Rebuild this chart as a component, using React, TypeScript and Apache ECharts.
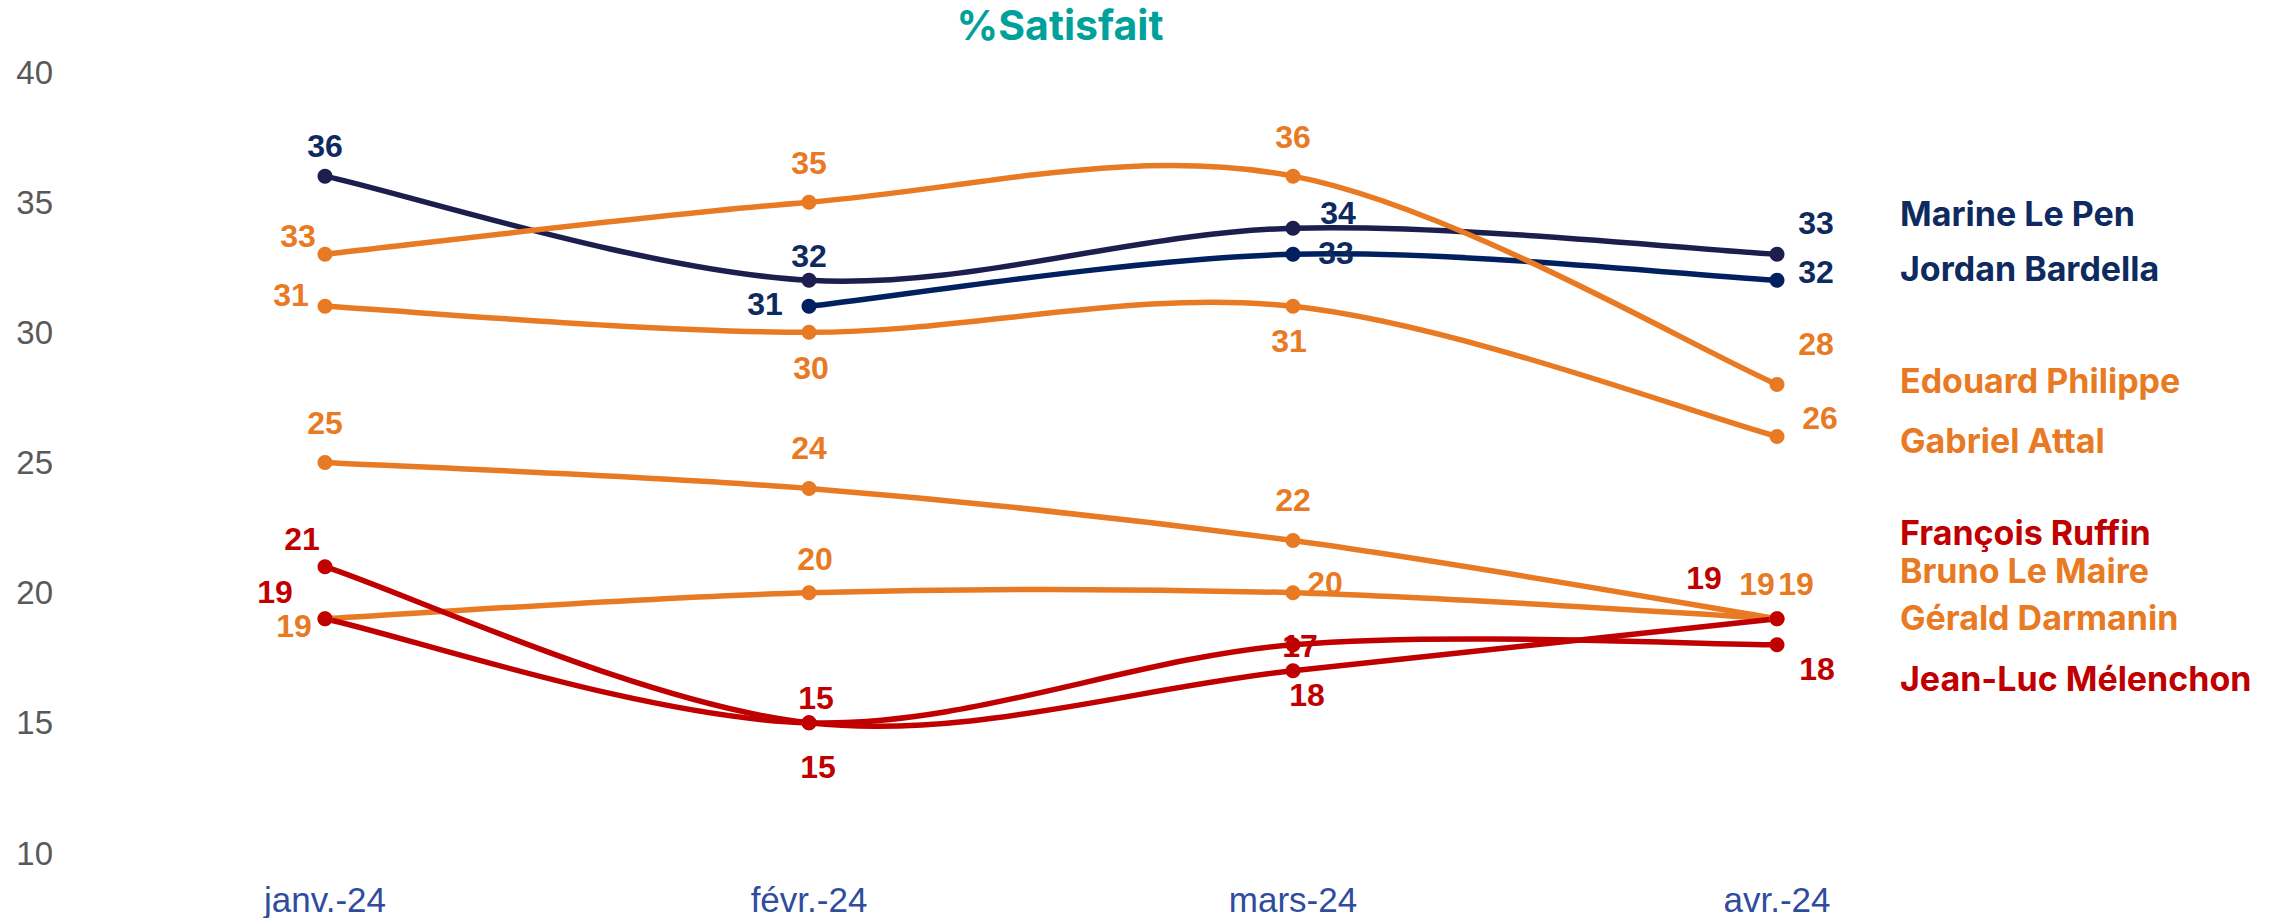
import React, { useEffect, useRef } from "react";
import * as echarts from "echarts";

const months = ["janv.-24", "févr.-24", "mars-24", "avr.-24"];
const marineLePen = [36, 32, 34, 33];
const jordanBardella = [null, 31, 33, 32];
const edouardPhilippe = [33, 35, 36, 28];
const gabrielAttal = [31, 30, 31, 26];
const brunoLeMaire = [25, 24, 22, 19];
const geraldDarmanin = [19, 20, 20, 19];
const francoisRuffin = [21, 15, 17, 19];
const jeanLucMelenchon = [19, 15, 18, 18];
const yMin = 10;
const yMax = 40;
const yStep = 5;
const titleText = "%Satisfait";

const NAVY1 = "#1C1F4E";
const NAVY2 = "#002060";
const NAVY_TXT = "#0E2A5E";
const ORANGE = "#E97A24";
const RED = "#C00000";

type Off = [number, number] | null;

const seriesDefs: { name: string; data: (number | null)[]; color: string; text: string; offsets: Off[]; nameY: number }[] = [
  { name: "Marine Le Pen", data: marineLePen, color: NAVY1, text: NAVY_TXT, offsets: [[0, -30], [0, -24], [45, -15], [39, -31]], nameY: 213 },
  { name: "Jordan Bardella", data: jordanBardella, color: NAVY2, text: NAVY_TXT, offsets: [null, [-44, -2], [43, -1], [39, -8]], nameY: 268 },
  { name: "Edouard Philippe", data: edouardPhilippe, color: ORANGE, text: ORANGE, offsets: [[-27, -18], [0, -39], [0, -39], [39, -40]], nameY: 380 },
  { name: "Gabriel Attal", data: gabrielAttal, color: ORANGE, text: ORANGE, offsets: [[-34, -11], [2, 36], [-4, 35], [43, -18]], nameY: 440 },
  { name: "Bruno Le Maire", data: brunoLeMaire, color: ORANGE, text: ORANGE, offsets: [[0, -40], [0, -41], [0, -41], [-20, -35]], nameY: 570 },
  { name: "Gérald Darmanin", data: geraldDarmanin, color: ORANGE, text: ORANGE, offsets: [[-31, 7], [6, -34], [32, -10], [19, -35]], nameY: 617 },
  { name: "François Ruffin", data: francoisRuffin, color: RED, text: RED, offsets: [[-23, -28], [7, -25], [7, -25], [-73, -41]], nameY: 532 },
  { name: "Jean-Luc Mélenchon", data: jeanLucMelenchon, color: RED, text: RED, offsets: [[-50, -27], [9, 44], [14, 50], [40, 24]], nameY: 678 },
];

function smoothPath(pts: number[][]): string {
  if (pts.length === 0) return "";
  let d = `M${pts[0][0]},${pts[0][1]}`;
  for (let i = 0; i < pts.length - 1; i++) {
    const p0 = pts[i - 1] || pts[i];
    const p1 = pts[i];
    const p2 = pts[i + 1];
    const p3 = pts[i + 2] || pts[i + 1];
    const c1x = p1[0] + (p2[0] - p0[0]) / 6;
    const c1y = p1[1] + (p2[1] - p0[1]) / 6;
    const c2x = p2[0] - (p3[0] - p1[0]) / 6;
    const c2y = p2[1] - (p3[1] - p1[1]) / 6;
    d += ` C${c1x},${c1y} ${c2x},${c2y} ${p2[0]},${p2[1]}`;
  }
  return d;
}

export default function App() {
  const ref = useRef<HTMLDivElement>(null);
  useEffect(() => {
    if (!ref.current) return;
    const chart = echarts.init(ref.current, undefined, { renderer: "svg" });
    const curveSeries = seriesDefs.map((s) => {
      const firstIdx = s.data.findIndex((v) => v !== null);
      return {
        name: s.name + " curve",
        type: "custom",
        silent: true,
        z: 2,
        data: [[firstIdx, s.data[firstIdx]]],
        encode: { x: 0, y: 1 },
        renderItem: (_params: any, api: any) => {
          const pts: number[][] = [];
          s.data.forEach((v, i) => {
            if (v !== null) pts.push(api.coord([i, v]));
          });
          return {
            type: "path",
            shape: { pathData: smoothPath(pts) },
            style: {
              stroke: s.color,
              lineWidth: 5.5,
              fill: "none",
              lineCap: "round",
              lineJoin: "round",
            },
          };
        },
      };
    });
    const pointSeries = seriesDefs.map((s) => ({
      name: s.name,
      type: "line",
      z: 3,
      symbol: "circle",
      symbolSize: 15,
      connectNulls: false,
      lineStyle: { opacity: 0, width: 0 },
      itemStyle: { color: s.color },
      data: s.data.map((v, i) => {
        const off = s.offsets[i];
        if (v === null) return null;
        return {
          value: v,
          label: {
            show: true,
            position: "inside",
            offset: off || [0, -30],
            color: s.text,
            fontSize: 32,
            fontWeight: "bold",
            fontFamily: "Liberation Sans, Arial, sans-serif",
            align: "center",
            verticalAlign: "middle",
          },
        };
      }),
    }));
    const graphics: any[] = [
      {
        type: "text",
        x: 1060,
        y: 25,
        style: {
          text: titleText,
          fill: "#00A19B",
          font: "bold 41px Inter, 'Noto Sans', sans-serif",
          align: "center",
          verticalAlign: "middle",
        },
      },
      ...seriesDefs.map((s) => ({
        type: "text",
        x: 1900,
        y: s.nameY,
        style: {
          text: s.name,
          fill: s.text,
          font: "bold 34px Inter, 'Noto Sans', sans-serif",
          align: "left",
          verticalAlign: "middle",
        },
      })),
    ];
    chart.setOption({
      animation: false,
      backgroundColor: "#ffffff",
      grid: { left: 83, right: 253, top: 72, bottom: 65, containLabel: false },
      xAxis: {
        type: "category",
        data: months,
        boundaryGap: true,
        axisLine: { show: false },
        axisTick: { show: false },
        axisLabel: {
          color: "#2F4C9E",
          fontSize: 35,
          lineHeight: 30,
          fontFamily: "Liberation Sans, Arial, sans-serif",
          margin: 31,
        },
      },
      yAxis: {
        type: "value",
        min: yMin,
        max: yMax,
        interval: yStep,
        axisLine: { show: false },
        axisTick: { show: false },
        splitLine: { show: false },
        axisLabel: {
          color: "#595959",
          fontSize: 33,
          fontFamily: "Liberation Sans, Arial, sans-serif",
          margin: 30,
        },
      },
      series: [...curveSeries, ...pointSeries],
      graphic: graphics,
    });
    return () => chart.dispose();
  }, []);
  return (
    <div
      ref={ref}
      style={{ position: "fixed", left: 0, top: 0, width: 2272, height: 918, background: "#fff" }}
    />
  );
}
